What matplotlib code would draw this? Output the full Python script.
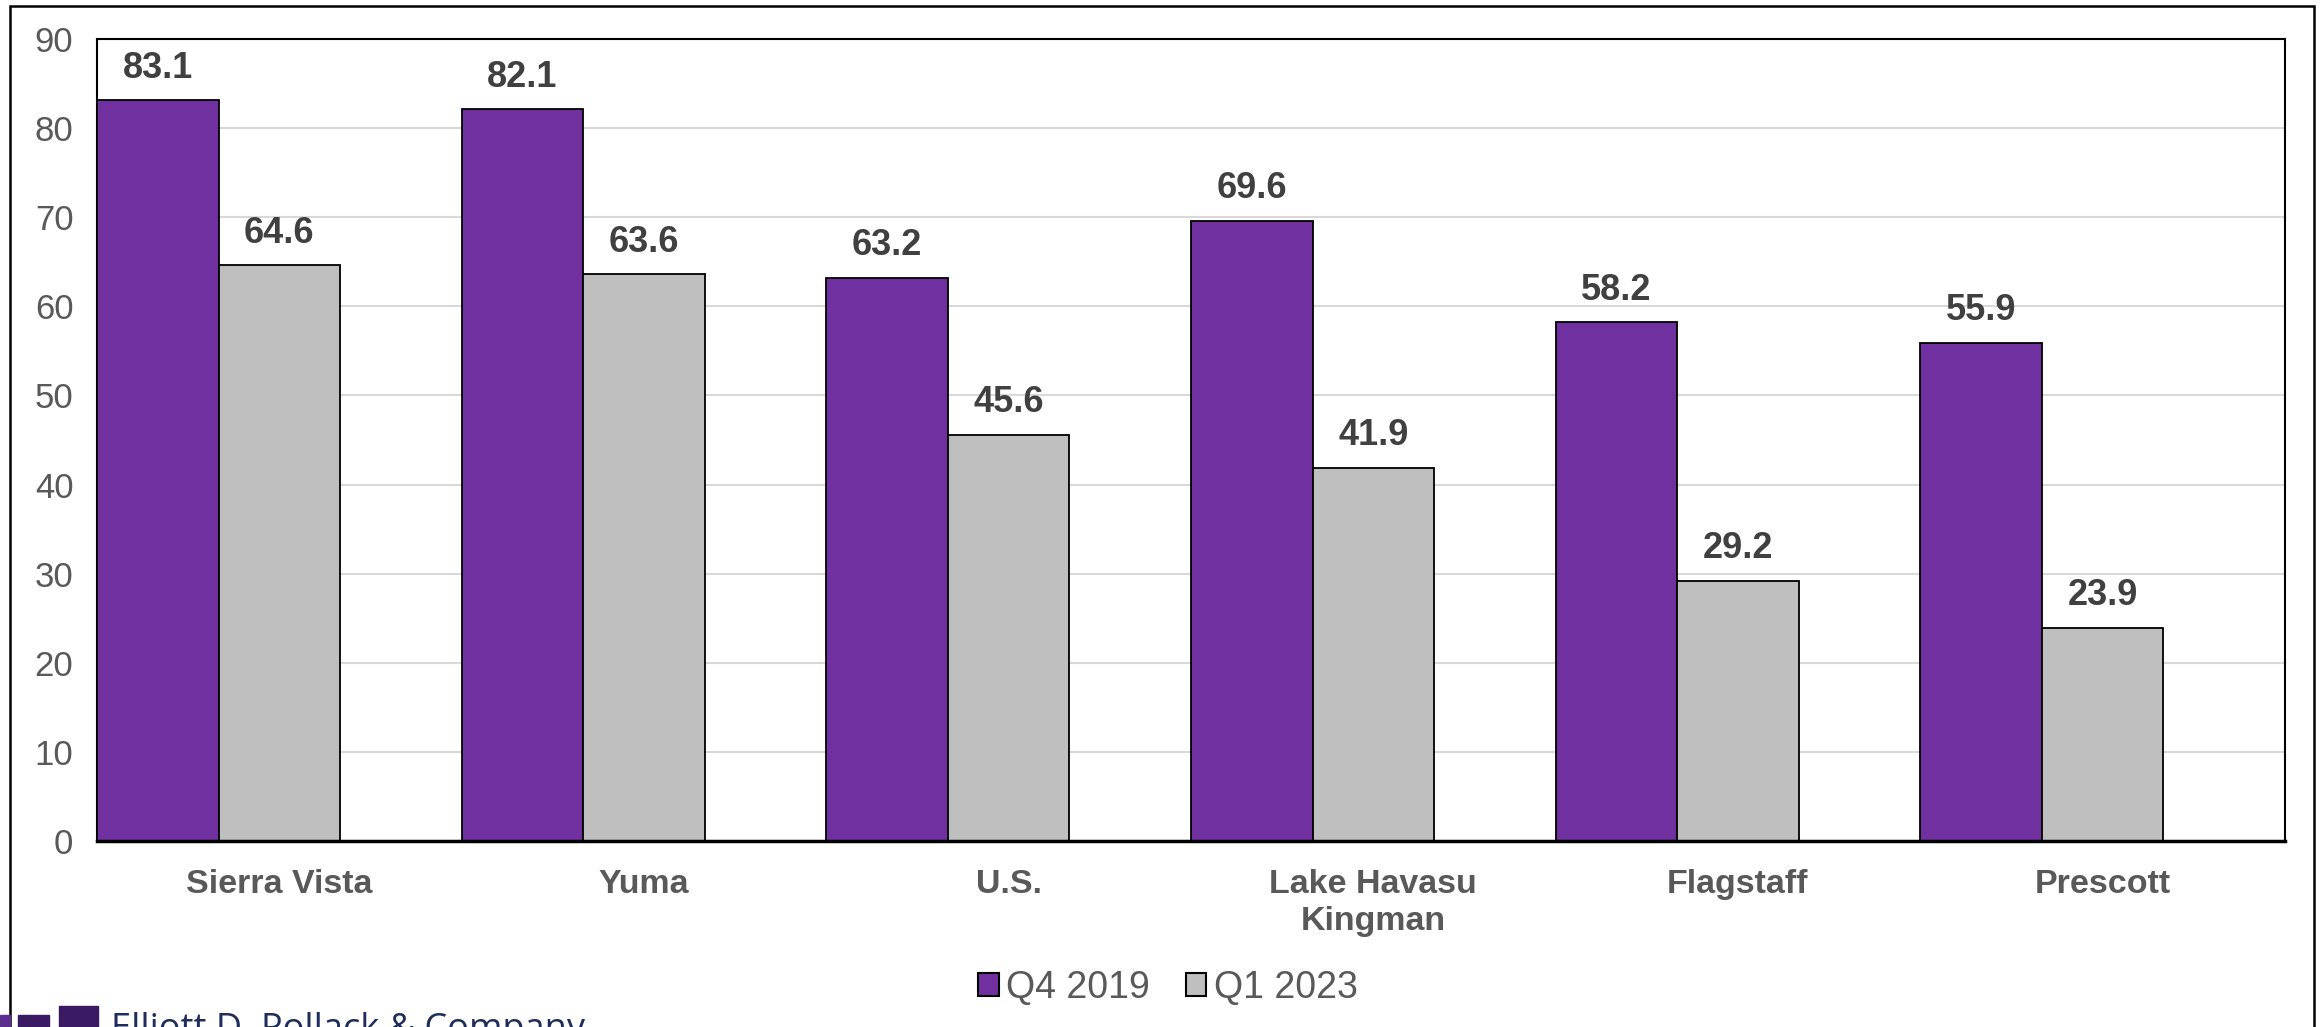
import matplotlib
matplotlib.use("Agg")
import matplotlib.pyplot as plt
from matplotlib.patches import Rectangle
import numpy as np

# Data
categories = ["Sierra Vista", "Yuma", "U.S.", "Lake Havasu\nKingman", "Flagstaff", "Prescott"]
series_names = ["Q4 2019", "Q1 2023"]
q4_2019 = [83.1, 82.1, 63.2, 69.6, 58.2, 55.9]
q1_2023 = [64.6, 63.6, 45.6, 41.9, 29.2, 23.9]
y_ticks = [0, 10, 20, 30, 40, 50, 60, 70, 80, 90]

purple = "#7030a0"
gray = "#bfbfbf"

plt.rcParams["font.family"] = ["Liberation Sans", "DejaVu Sans"]

W, H = 2320, 1027
fig = plt.figure(figsize=(W / 100, H / 100), dpi=100)

def fx(px):
    return px / W

def fy(py):
    return 1 - py / H

ax = fig.add_axes([fx(97), fy(841), fx(2285) - fx(97), fy(39) - fy(841)])

x = np.arange(len(categories))
w = 1 / 3
b1 = ax.bar(x - w, q4_2019, width=w, color=purple, edgecolor="black", linewidth=1.3, zorder=3)
b2 = ax.bar(x, q1_2023, width=w, color=gray, edgecolor="black", linewidth=1.3, zorder=3)

for bars, vals in ((b1, q4_2019), (b2, q1_2023)):
    for rect, v in zip(bars, vals):
        ax.annotate(f"{v:.1f}", xy=(rect.get_x() + rect.get_width() / 2, v),
                    xytext=(0, 10.5), textcoords="offset points",
                    ha="center", va="bottom", fontsize=26, fontweight="bold",
                    color="#404040", zorder=4)

ax.set_xlim(-0.5, len(categories) - 0.5)
ax.set_ylim(0, 90)
ax.set_yticks(y_ticks)
ax.set_xticks(x)
ax.set_xticklabels(categories, fontsize=24.5, fontweight="bold", color="#595959",
                   linespacing=1.25)
ax.tick_params(axis="x", length=0, pad=20)
ax.tick_params(axis="y", length=0, pad=17, labelsize=25, labelcolor="#595959")
ax.yaxis.grid(True, color="#d9d9d9", linewidth=1.5, zorder=0)
ax.set_axisbelow(True)
for side in ("top", "left", "right"):
    ax.spines[side].set_color("black")
    ax.spines[side].set_linewidth(1.5)
ax.spines["bottom"].set_color("black")
ax.spines["bottom"].set_linewidth(2.5)
ax.spines["bottom"].set_zorder(5)

# Legend
handles = [Rectangle((0, 0), 1, 1, facecolor=purple, edgecolor="black", linewidth=1.5),
           Rectangle((0, 0), 1, 1, facecolor=gray, edgecolor="black", linewidth=1.5)]
fig.legend(handles, series_names, loc="center", bbox_to_anchor=(fx(1168), fy(988)),
           ncol=2, frameon=False, fontsize=27, labelcolor="#595959",
           handlelength=0.55, handleheight=0.55, handletextpad=0.2,
           columnspacing=0.95, borderpad=0, borderaxespad=0)

# Outer border of the chart area (continues past the bottom edge)
fig.add_artist(Rectangle((fx(10), fy(1100)), fx(2314) - fx(10), fy(6) - fy(1100),
                         transform=fig.transFigure, fill=False,
                         edgecolor="black", linewidth=1.8, zorder=1))

# Company logo in the lower-left corner
logo_dark = "#3a1a63"
logo_mid = "#5b2d8c"
fig.add_artist(Rectangle((fx(0), fy(1027)), fx(10), fy(1015) - fy(1027),
                         transform=fig.transFigure, color=logo_mid, zorder=6))
fig.add_artist(Rectangle((fx(18), fy(1027)), fx(31), fy(1015) - fy(1027),
                         transform=fig.transFigure, color=logo_dark, zorder=6))
fig.add_artist(Rectangle((fx(59), fy(1027)), fx(39), fy(1006) - fy(1027),
                         transform=fig.transFigure, color=logo_dark, zorder=6))
fig.text(fx(111), fy(1012), "Elliott D. Pollack & Company", fontsize=26,
         family=["Open Sans", "DejaVu Sans"], color="#1f2d5c",
         ha="left", va="top", zorder=6)

fig.savefig("out.png", dpi=100)
